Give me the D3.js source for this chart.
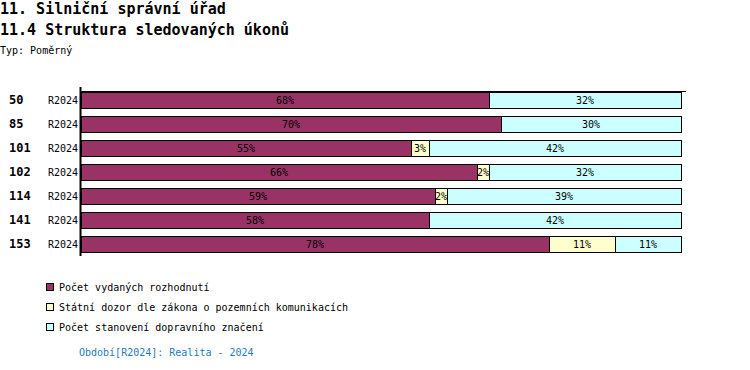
<!DOCTYPE html>
<html>
<head>
<meta charset="utf-8">
<script src="https://cdn.jsdelivr.net/npm/d3@7"></script>
<style>
  body { margin: 0; background: #fff; }
  svg text { font-family: "DejaVu Sans Mono", "Liberation Mono", monospace; }
</style>
</head>
<body>
<svg id="chart" width="750" height="370"></svg>
<script>
// data
const rowIds = ["50", "85", "101", "102", "114", "141", "153"];
const periods = ["R2024", "R2024", "R2024", "R2024", "R2024", "R2024", "R2024"];
const seriesNames = [
  "Počet vydaných rozhodnutí",
  "Státní dozor dle zákona o pozemních komunikacích",
  "Počet stanovení dopravního značení"
];
const rozhodnuti = [68, 70, 55, 66, 59, 58, 78];
const dozor      = [0, 0, 3, 2, 2, 0, 11];
const znaceni    = [32, 30, 42, 32, 39, 42, 11];
const colors = ["#993366", "#ffffcc", "#ccffff"];

const svg = d3.select("#chart");

// titles
svg.append("text").attr("x", 0).attr("y", 14).attr("font-size", 15).attr("font-weight", "bold")
  .text("11. Silniční správní úřad");
svg.append("text").attr("x", 0).attr("y", 35).attr("font-size", 15).attr("font-weight", "bold")
  .text("11.4 Struktura sledovaných úkonů");
svg.append("text").attr("x", 0).attr("y", 54).attr("font-size", 10)
  .text("Typ: Poměrný");

const x = d3.scaleLinear().domain([0, 100]).range([81, 681]);
const y = d3.scaleBand().domain(rowIds).range([88, 256]).paddingInner(1 / 3).paddingOuter(1 / 6);

const rows = rowIds.map((id, i) => {
  const vals = [rozhodnuti[i], dozor[i], znaceni[i]];
  let acc = 0;
  return vals.map((v, k) => {
    const seg = { id: id, k: k, v: v, x0: acc, x1: acc + v };
    acc += v;
    return seg;
  }).filter(s => s.v > 0);
});

const g = svg.append("g");

const segs = g.selectAll("g.row").data(rows).enter().append("g").attr("class", "row")
  .selectAll("g.seg").data(d => d).enter().append("g").attr("class", "seg");

segs.append("rect")
  .attr("x", d => Math.round(x(d.x0)) + 0.5)
  .attr("y", d => y(d.id) + 0.5)
  .attr("width", d => Math.round(x(d.x1)) - Math.round(x(d.x0)))
  .attr("height", y.bandwidth())
  .attr("fill", d => colors[d.k])
  .attr("stroke", "#000")
  .attr("stroke-width", 1);

segs.append("text")
  .attr("x", d => (x(d.x0) + x(d.x1)) / 2)
  .attr("y", d => y(d.id) + y.bandwidth() / 2 + 4)
  .attr("text-anchor", "middle")
  .attr("font-size", 10)
  .attr("fill", "#000")
  .text(d => d.v + "%");

// axis lines
svg.append("line").attr("x1", 81).attr("x2", 686).attr("y1", 91.5).attr("y2", 91.5)
  .attr("stroke", "#000");
svg.append("line").attr("x1", 80.5).attr("x2", 80.5).attr("y1", 87).attr("y2", 256)
  .attr("stroke", "#000").attr("stroke-width", 2);

// row labels
svg.selectAll("text.rid").data(rowIds).enter().append("text").attr("class", "rid")
  .attr("x", 9).attr("y", d => y(d) + y.bandwidth() / 2 + 4)
  .attr("font-size", 12).attr("font-weight", "bold")
  .text(d => d);
svg.selectAll("text.per").data(periods).enter().append("text").attr("class", "per")
  .attr("x", 78).attr("y", (d, i) => y(rowIds[i]) + y.bandwidth() / 2 + 4)
  .attr("text-anchor", "end")
  .attr("font-size", 10)
  .text(d => d);

// legend
const leg = svg.selectAll("g.leg").data(seriesNames).enter().append("g").attr("class", "leg")
  .attr("transform", (d, i) => "translate(46," + (283 + i * 20) + ")");
leg.append("rect").attr("x", 0.5).attr("y", 0.5).attr("width", 7).attr("height", 7)
  .attr("fill", (d, i) => colors[i]).attr("stroke", "#000");
leg.append("text").attr("x", 13).attr("y", 7.5).attr("font-size", 10).text(d => d);

svg.append("text").attr("x", 79).attr("y", 356).attr("font-size", 10).attr("fill", "#1f7ac2")
  .text("Období[R2024]: Realita - 2024");
</script>
</body>
</html>
